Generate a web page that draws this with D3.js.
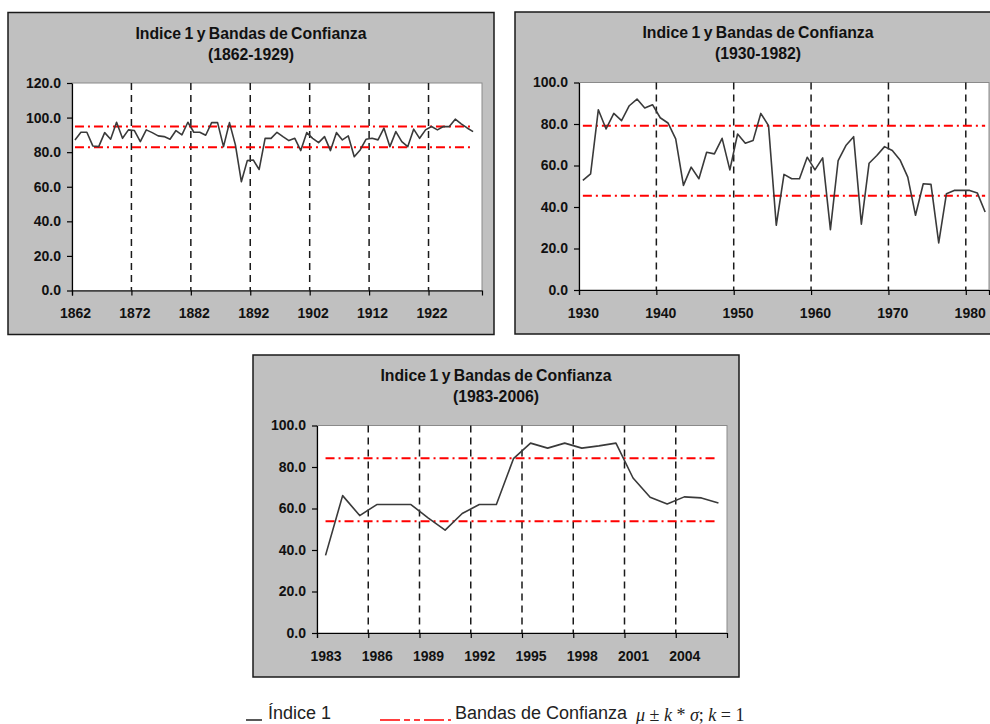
<!DOCTYPE html>
<html>
<head>
<meta charset="utf-8">
<script src="https://cdn.jsdelivr.net/npm/d3@7"></script>
<style>
  body { margin: 0; background: #fff; }
  svg { font-family: "Liberation Sans", Arial, sans-serif; }
  .panel-bg { fill: #c0c0c0; stroke: #1a1a1a; stroke-width: 1.5px; }
  .plot-bg { fill: #fff; stroke: #8a8a8a; stroke-width: 1px; }
  .title { font-size: 15.8px; font-weight: bold; fill: #111; text-anchor: middle; word-spacing: -1px; }
  .axis text { font-size: 14px; font-weight: bold; fill: #111; font-family: "Liberation Sans", Arial, sans-serif; }
  .axis path, .axis line { stroke: #000; stroke-width: 1.2px; }
  .grid { stroke: #1a1a1a; stroke-width: 1.5px; stroke-dasharray: 7,5; }
  .band { stroke: #ff0000; stroke-width: 2px; stroke-dasharray: 9,4,2,4; fill: none; }
  .serie { stroke: #3a3a3a; stroke-width: 1.6px; fill: none; stroke-linejoin: round; }
  .legend text { font-size: 18px; fill: #222; }
  .math { font-family: "Liberation Serif", "DejaVu Serif", serif; font-size: 19.5px; fill: #111; }
</style>
</head>
<body>
<svg id="chart" width="990" height="724"></svg>
<script>
// Indice 1, 1862-1929
var indice1862 = [87.1, 91.5, 91.5, 83.6, 83.2, 91.3, 87.5, 97.3, 88.0, 92.9,
  92.5, 86.1, 92.9, 91.3, 89.4, 89.0, 87.5, 92.5, 90.0, 97.3,
  91.5, 91.5, 89.8, 97.1, 97.1, 83.2, 97.1, 84.2, 62.9, 75.1,
  75.5, 70.0, 88.0, 88.0, 91.5, 89.0, 86.7, 88.0, 80.9, 91.3,
  88.0, 85.5, 89.0, 80.9, 91.3, 87.1, 89.4, 77.4, 81.3, 87.5,
  88.0, 87.1, 93.9, 83.2, 91.9, 86.1, 83.2, 93.3, 88.0, 92.9,
  94.8, 92.9, 94.8, 94.8, 99.1, 96.4, 94.0, 91.9];
// Indice 1, 1930-1982
var indice1930 = [52.8, 56.0, 86.9, 77.6, 85.1, 81.6, 88.8, 92.0, 87.7, 89.3,
  83.0, 80.5, 72.8, 50.4, 59.2, 53.6, 66.4, 65.6, 73.1, 57.9,
  75.2, 70.7, 72.0, 85.1, 79.2, 31.2, 55.7, 53.6, 53.6, 64.0,
  57.9, 63.7, 29.1, 62.4, 69.6, 73.9, 31.7, 61.1, 64.8, 69.1,
  67.2, 62.7, 54.4, 36.0, 51.2, 50.9, 22.7, 46.4, 48.0, 48.0,
  48.0, 46.7, 37.6];
// Indice 1, 1983-2006
var indice1983 = [37.4, 66.2, 56.6, 61.9, 61.9, 61.9, 55.5, 49.6, 57.6, 61.9,
  61.9, 84.0, 91.5, 89.1, 91.5, 89.1, 90.2, 91.5, 74.7, 65.4,
  62.2, 65.6, 65.1, 62.7];

// bandas de confianza [superior, inferior]
var bands1862 = [94.8, 82.8];
var bands1930 = [79.2, 45.4];
var bands1983 = [84.2, 53.9];

var xTicks1862 = [1862, 1872, 1882, 1892, 1902, 1912, 1922];
var xTicks1930 = [1930, 1940, 1950, 1960, 1970, 1980];
var xTicks1983 = [1983, 1986, 1989, 1992, 1995, 1998, 2001, 2004];
var yTicks1862 = [0, 20, 40, 60, 80, 100, 120];
var yTicks100 = [0, 20, 40, 60, 80, 100];

var panels = [
  {left: 8, top: 12.5, range: "(1862-1929)", start: 1862, stop: 1931,
   values: indice1862, bands: bands1862, xTicks: xTicks1862, yTicks: yTicks1862},
  {left: 515, top: 12, range: "(1930-1982)", start: 1930, stop: 1983,
   values: indice1930, bands: bands1930, xTicks: xTicks1930, yTicks: yTicks100},
  {left: 253, top: 355, range: "(1983-2006)", start: 1983, stop: 2007,
   values: indice1983, bands: bands1983, xTicks: xTicks1983, yTicks: yTicks100}
];

var W = 486, H = 322;
var margin = {top: 70.5, right: 12, bottom: 44, left: 64};
var pw = W - margin.left - margin.right,
    ph = H - margin.top - margin.bottom;

var svg = d3.select("#chart");

function drawPanel(p) {
  var g = svg.append("g")
    .attr("transform", "translate(" + p.left + "," + p.top + ")");

  g.append("rect").attr("class", "panel-bg")
    .attr("width", W).attr("height", H);

  g.append("text").attr("class", "title")
    .attr("x", W / 2).attr("y", 26)
    .text("Indice 1 y Bandas de Confianza");
  g.append("text").attr("class", "title")
    .attr("x", W / 2).attr("y", 47)
    .text(p.range);

  var plot = g.append("g")
    .attr("transform", "translate(" + margin.left + "," + margin.top + ")");

  var x = d3.scaleLinear().domain([p.start, p.stop]).range([0, pw]);
  var y = d3.scaleLinear().domain([0, d3.max(p.yTicks)]).range([ph, 0]);

  plot.append("rect").attr("class", "plot-bg")
    .attr("width", pw).attr("height", ph);

  // vertical dashed lines
  plot.selectAll("line.grid")
    .data(p.xTicks.slice(1))
    .enter().append("line")
    .attr("class", "grid")
    .attr("x1", function(d) { return x(d); })
    .attr("x2", function(d) { return x(d); })
    .attr("y1", 0).attr("y2", ph);

  // bands
  var n = p.values.length;
  plot.selectAll("line.band")
    .data(p.bands)
    .enter().append("line")
    .attr("class", "band")
    .attr("x1", x(p.start + 0.5))
    .attr("x2", x(p.start + n - 0.5))
    .attr("y1", function(d) { return y(d); })
    .attr("y2", function(d) { return y(d); });

  var line = d3.line()
    .x(function(d, i) { return x(p.start + i + 0.5); })
    .y(function(d) { return y(d); });

  plot.append("path")
    .datum(p.values)
    .attr("class", "serie")
    .attr("d", line);

  plot.append("g")
    .attr("class", "axis")
    .call(d3.axisLeft(y)
      .tickValues(p.yTicks)
      .tickFormat(d3.format(".1f"))
      .tickSize(5)
      .tickSizeOuter(0)
      .tickPadding(6));

  var xAxis = plot.append("g")
    .attr("class", "axis")
    .attr("transform", "translate(0," + ph + ")")
    .call(d3.axisBottom(x)
      .tickValues(p.xTicks)
      .tickFormat(d3.format("d"))
      .tickSize(5)
      .tickSizeOuter(5)
      .tickPadding(13));

  // labels sit in the middle of the year
  xAxis.selectAll(".tick text")
    .attr("x", function(d) { return x(d + 0.5) - x(d); });
}

panels.forEach(drawPanel);

// legend
var legend = svg.append("g").attr("class", "legend");
legend.append("line")
  .attr("x1", 246).attr("x2", 262).attr("y1", 720).attr("y2", 720)
  .attr("stroke", "#222").attr("stroke-width", 1.5);
legend.append("text").attr("x", 268).attr("y", 719).text("Índice 1");
legend.append("line")
  .attr("x1", 380).attr("x2", 451).attr("y1", 720).attr("y2", 720)
  .attr("stroke", "#ff0000").attr("stroke-width", 1.5)
  .attr("stroke-dasharray", "20,4,6,4,6,4");
legend.append("text").attr("x", 455).attr("y", 719).text("Bandas de Confianza");

var math = legend.append("text").attr("class", "math").attr("x", 636).attr("y", 721);
[["μ", true], [" ± ", false], ["k", true], [" * ", false], ["σ", true],
 ["; ", false], ["k", true], [" = ", false], ["1", false]].forEach(function(s) {
  math.append("tspan").style("font-style", s[1] ? "italic" : "normal").text(s[0]);
});
</script>
</body>
</html>
